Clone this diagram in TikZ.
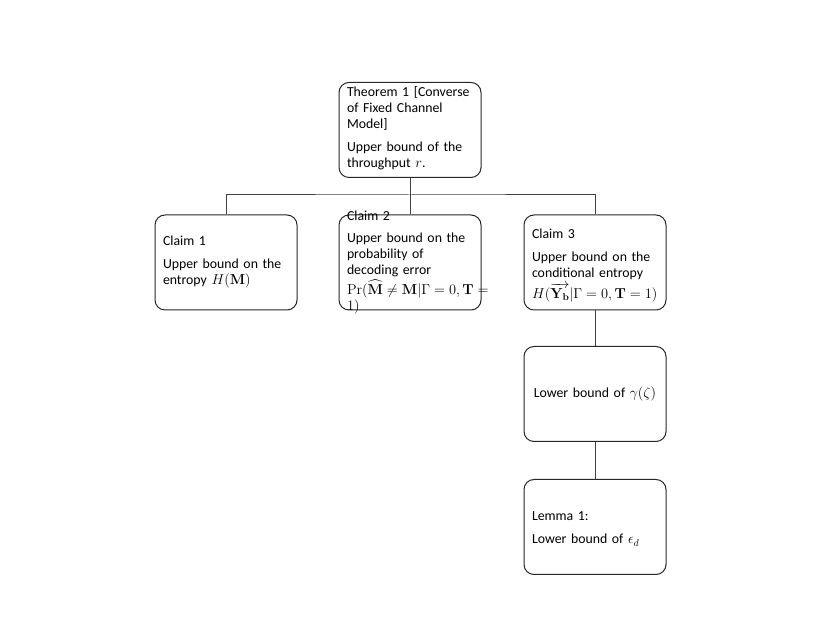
\documentclass[tikz,border=0pt]{standalone}
\usepackage{amsmath}
\usepackage[no-math]{fontspec}
\setmainfont{Carlito}
\begin{document}
\begin{tikzpicture}[x=1pt,y=1pt,
  box/.style={draw=black!85, line width=1pt, rounded corners=10pt, minimum width=142pt, minimum height=95pt, inner sep=0pt},
  txt/.style={text width=126pt, align=left, inner sep=0pt, font=\fontsize{13.8}{16}\selectfont},
  link/.style={draw=black!75, line width=1pt}]
\useasboundingbox (0,0) rectangle (830,623);
% boxes (y = 623 - pixel y)
\node[box] (thm) at (410,493) {};
\node[box] (c1) at (226,360.5) {};
\node[box] (c2) at (410,360.5) {};
\node[box] (c3) at (595,360.5) {};
\node[box] (lb) at (595,229) {};
\node[box] (lem) at (595,96) {};
% texts
\node[txt] (thmt) at ([yshift=2pt]thm.center) {Theorem 1 [Converse\\ of Fixed Channel\\ Model]\\[7pt] Upper bound of the\\ throughput $r$.};
\node[txt] (c1t) at (c1.center) {Claim 1\\[7pt] Upper bound on the\\ entropy $H(\mathbf{M})$};
\node[txt] (c2t) at ([yshift=0pt]c2.center) {Claim 2\\[6pt] Upper bound on the\\ probability of\\ decoding error\\[2pt] \mbox{$\mathrm{Pr}(\widehat{\mathbf{M}} \neq \mathbf{M}|\Gamma = 0, \mathbf{T} =$}\\ $1)$};
\node[txt] (c3t) at ([yshift=-3pt]c3.center) {Claim 3\\[7pt] Upper bound on the\\ conditional entropy\\[3pt] \mbox{$H(\overrightarrow{\mathbf{Y}_{\mathbf{b}}}|\Gamma = 0, \mathbf{T} = 1)$}};
\node[txt, align=center] (lbt) at (lb.center) {Lower bound of $\gamma(\zeta)$};
\node[txt] (lemt) at ([yshift=-2pt]lem.center) {Lemma 1:\\[7pt] Lower bound of $\epsilon_d$};
% connectors
\coordinate (bus) at (410,428);
\draw[link] (thm.south) -- (bus);
\draw[link] (c1.north) |- (bus) -| (c3.north);
\draw[link] (bus) -- (c2.north);
\draw[link] (c3.south) -- (lb.north);
\draw[link] (lb.south) -- (lem.north);
\end{tikzpicture}
\end{document}
